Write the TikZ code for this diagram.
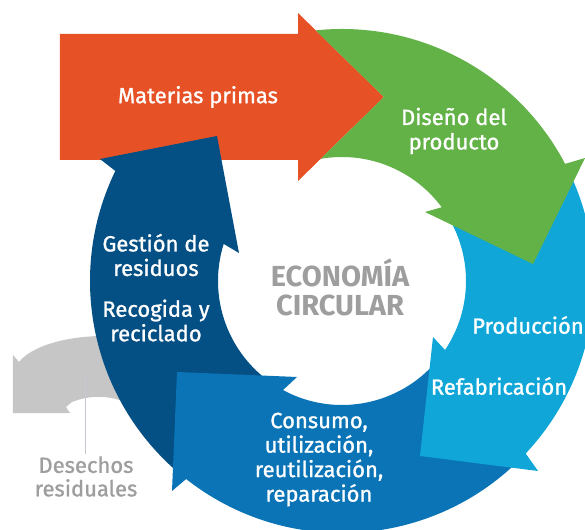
\documentclass[tikz,border=0pt]{standalone}
\usepackage{fontspec}
\setmainfont{Fira Sans}
\newfontfamily\stepfont{Fira Sans}[FakeBold=1.1]
\usepackage{tikz}
\usetikzlibrary{positioning}
\definecolor{rawmat}{RGB}{230,81,38}
\definecolor{design}{RGB}{98,178,72}
\definecolor{produce}{RGB}{16,167,216}
\definecolor{consume}{RGB}{10,116,182}
\definecolor{wastemgmt}{RGB}{4,79,132}
\definecolor{residual}{RGB}{198,198,198}
\definecolor{labelgray}{RGB}{158,158,158}
\definecolor{pointer}{RGB}{200,200,210}

\begin{document}
\begin{tikzpicture}[
    x=1pt, y=1pt,
    steplabel/.style={text=white, align=center, inner sep=0pt, font=\stepfont\fontsize{22}{24.5}\selectfont},
    centerlabel/.style={text=labelgray, align=center, inner sep=0pt, font=\bfseries\fontsize{29}{29}\selectfont},
    residuallabel/.style={text=labelgray, align=center, inner sep=2pt, font=\stepfont\fontsize{22}{23.5}\selectfont}
]
    \clip (-342,-248) rectangle (243,281);

    % residual waste, behind the ring
    \fill[residual] (-192,-52) -- (-242,-55) .. controls (-282,-56) and (-312,-67) .. (-323,-81)
        -- (-329,-74) -- (-329,-132) -- (-272,-132) -- (-276,-126) -- (-270,-121)
        .. controls (-250,-113) and (-225,-113) .. (-200,-130) -- (-192,-140) -- cycle;

    % ring segments
    \fill[rawmat] (-282,121) -- (-282,247) -- (-44,247) -- (-44,268) -- (42,184) -- (-44,100) -- (-44,121) -- cycle;
    \fill[wastemgmt] (154.1:252) -- (-242,122) -- (-125,145) -- (-103,28) -- (162.6:124)
        arc[start angle=162.6, end angle=236, radius=124pt] -- (230:252)
        arc[start angle=230, end angle=154.1, radius=252pt] -- cycle;
    \fill[consume] (231.8:252) -- (-170,-210) -- (-165,-91) -- (-45,-96) -- (241.6:124)
        arc[start angle=241.6, end angle=320, radius=124pt] -- (315:252)
        arc[start angle=315, end angle=231.8, radius=252pt] -- cycle;
    \fill[produce] (-43.2:252) -- (196,-190) -- (78,-175) -- (91,-56) -- (-33.8:124)
        arc[start angle=-33.8, end angle=33, radius=124pt] -- (26:252)
        arc[start angle=26, end angle=-43.2, radius=252pt] -- cycle;
    \fill[design] (42,184) -- (96:252) arc[start angle=96, end angle=27.7, radius=252pt]
        -- (243,123) -- (191,17) -- (83,69) -- (36.5:124)
        arc[start angle=36.5, end angle=99.9, radius=124pt] -- cycle;

    \node[steplabel] (raw) at (-144,184) {Materias primas};
    \node[steplabel] (design) at (112,150) {Diseño del\\producto};
    \node[steplabel, anchor=west] (production) at (130,-44) {Producción};
    \node[steplabel] (remanufacture) at (157,-105) {Refabricación};
    \node[steplabel] (consumption) at (-23,-178.5) {Consumo,\\utilización,\\reutilización,\\reparación};
    \node[steplabel] (management) at (-186,26) {Gestión de\\residuos};
    \node[steplabel, below=23pt of management] (recycling) {Recogida y\\reciclado};
    \node[centerlabel] (circular) at (-2,-6.5) {ECONOMÍA\\CIRCULAR};

    \node[residuallabel] (residues) at (-256,-195.5) {Desechos\\residuales};
    \coordinate (residuetip) at (-256,-91);
    \draw[pointer, line width=1pt] (residues.north) -- (residuetip);
\end{tikzpicture}
\end{document}
